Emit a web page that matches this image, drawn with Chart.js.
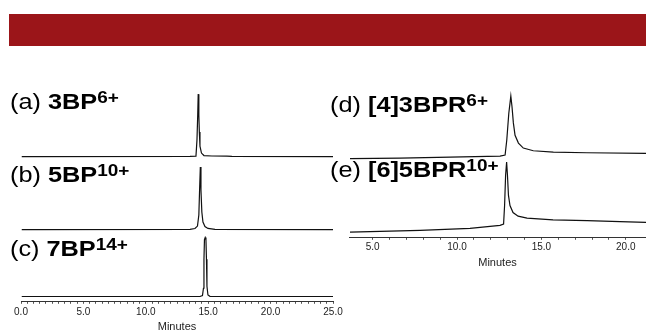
<!DOCTYPE html>
<html>
<head>
<meta charset="utf-8">
<script src="https://cdn.jsdelivr.net/npm/chart.js@4/dist/chart.umd.min.js"></script>
<style>
  html, body { margin: 0; padding: 0; background: #fff; }
  body { width: 646px; height: 332px; position: relative; overflow: hidden; font-family: "Liberation Sans", Arial, sans-serif; }
  .banner { position: absolute; left: 9px; top: 14px; width: 637px; height: 32px; background: #9b1519; }
  canvas { position: absolute; }
  .lbl { position: absolute; font-size: 22px; line-height: 22px; color: #000; white-space: nowrap;
         transform: scaleX(1.15); transform-origin: 0 0; }
  .lbl b { font-weight: bold; }
  .lbl sup { font-size: 16.5px; font-weight: bold; vertical-align: 6px; line-height: 0; }
</style>
</head>
<body>
<div class="banner"></div>

<canvas id="chartA" width="312" height="73" style="left:21px;top:87px"></canvas>
<canvas id="chartB" width="312" height="73" style="left:21px;top:160px"></canvas>
<canvas id="chartC" width="352" height="104" style="left:1px;top:230px"></canvas>
<canvas id="chartD" width="297" height="73" style="left:349px;top:89px"></canvas>
<canvas id="chartE" width="297" height="112" style="left:349px;top:158px"></canvas>

<div class="lbl" style="left:10px;top:91px">(a) <b>3BP</b><sup>6+</sup></div>
<div class="lbl" style="left:10px;top:164px">(b) <b>5BP</b><sup>10+</sup></div>
<div class="lbl" style="left:10px;top:238px">(c) <b>7BP</b><sup>14+</sup></div>
<div class="lbl" style="left:330px;top:94px">(d) <b>[4]3BPR</b><sup>6+</sup></div>
<div class="lbl" style="left:330px;top:159px">(e) <b>[6]5BPR</b><sup>10+</sup></div>

<script>
// retention time (minutes) and detector signal (arbitrary units) for each trace
const timeA = [0.06, 13.54, 14.02, 14.10, 14.16, 14.20, 14.25, 14.29, 14.34, 14.46, 14.66, 15.30, 16.50, 16.90, 25.0];
const signalA = [0, 0.3, 0.7, 24, 60.5, 91, 60.5, 35.7, 15.3, 5.1, 1.5, 0.8, 0.6, 0.2, 0];

const timeB = [0.06, 13.54, 13.94, 14.14, 14.25, 14.31, 14.37, 14.42, 14.49, 14.58, 14.74, 14.98, 15.54, 25.0];
const signalB = [0, 0.3, 1.5, 5.1, 21.3, 57.6, 91.1, 57.6, 25.5, 10.9, 4.4, 1.7, 0.4, 0];

const timeC = [0.06, 14.34, 14.54, 14.62, 14.66, 14.70, 14.76, 14.82, 14.86, 14.90, 14.98, 15.14, 25.0];
const signalC = [0, 0, 1.5, 12.4, 56, 85.3, 88.5, 85.3, 56, 15.3, 2.2, 0.3, 0];

const timeD = [3.66, 6.62, 9.59, 12.55, 12.85, 12.95, 13.07, 13.19, 13.26, 13.34, 13.44, 13.64, 13.93, 14.52, 15.71, 17.69, 21.2];
const signalD = [0, 0.7, 2.2, 3.6, 5.1, 27, 66, 91, 75.5, 52, 34, 22.6, 15.3, 11.4, 9.5, 8.5, 7.6];

const timeE = [3.66, 7.81, 10.77, 12.55, 12.76, 12.82, 12.88, 12.94, 12.99, 13.05, 13.14, 13.32, 13.62, 14.15, 15.69, 17.71, 19.66, 21.2];
const signalE = [0.3, 2.6, 5.5, 9.9, 11.7, 38.6, 82.4, 101.3, 82.4, 53.2, 38.6, 28.4, 23.3, 20.4, 17.8, 16.8, 15.3, 14.3];

// labelled ticks on the two time axes
const leftTickLabels = [0, 5, 10, 15, 20, 25];
const rightTickLabels = [5, 10, 15, 20];

Chart.defaults.font.family = '"Liberation Sans", Arial, sans-serif';
Chart.defaults.color = '#222';

function toPoints(t, s) {
  return t.map((v, i) => ({ x: v, y: s[i] }));
}

function timeAxis(min, max, step, labelled, showAxis, titlePad, tickPad) {
  if (!showAxis) return { type: 'linear', min: min, max: max, display: false };
  return {
    type: 'linear', min: min, max: max,
    afterBuildTicks: axis => {
      axis.ticks = axis.ticks.filter(t => Math.abs(t.value / step - Math.round(t.value / step)) < 1e-6);
    },
    ticks: {
      stepSize: step, autoSkip: false, maxRotation: 0, padding: tickPad,
      font: { size: 10 }, color: '#222',
      callback: v => labelled.includes(v) ? v.toFixed(1) : ''
    },
    grid: { drawOnChartArea: false, drawTicks: true, tickLength: 2, tickColor: '#555' },
    border: { display: true, color: '#333', width: 1 },
    title: { display: true, text: 'Minutes', font: { size: 11 }, color: '#222', padding: titlePad }
  };
}

function trace(id, t, s, xr, yr, showAxis, pad, titlePad, tickPad) {
  const ctx = document.getElementById(id).getContext('2d');
  new Chart(ctx, {
    type: 'line',
    data: {
      datasets: [{
        data: toPoints(t, s),
        borderColor: '#111',
        borderWidth: 1.2,
        pointRadius: 0,
        tension: 0,
        fill: false
      }]
    },
    options: {
      responsive: false,
      animation: false,
      events: [],
      layout: { padding: pad },
      plugins: { legend: { display: false }, tooltip: { enabled: false } },
      scales: {
        x: timeAxis(xr[0], xr[1], xr[2], xr[3], showAxis, titlePad, tickPad),
        y: { display: false, min: yr[0], max: yr[1] }
      }
    }
  });
}

const leftRange = [0, 25, 0.5, leftTickLabels];
const rightRange = [3.6, 21.2, 1, rightTickLabels];

trace('chartA', timeA, signalA, leftRange, [-5, 101.4], false, 0);
trace('chartB', timeB, signalB, leftRange, [-5, 101.4], false, 0);
trace('chartC', timeC, signalC, leftRange, [-8, 99.9], true, { left: 20, right: 20 }, { top: 1, bottom: 0 }, 2);
trace('chartD', timeD, signalD, rightRange, [-5, 101.4], false, 0);
trace('chartE', timeE, signalE, rightRange, [-8, 107.2], true, 0, { top: 3, bottom: 0 }, 1);
</script>
</body>
</html>
